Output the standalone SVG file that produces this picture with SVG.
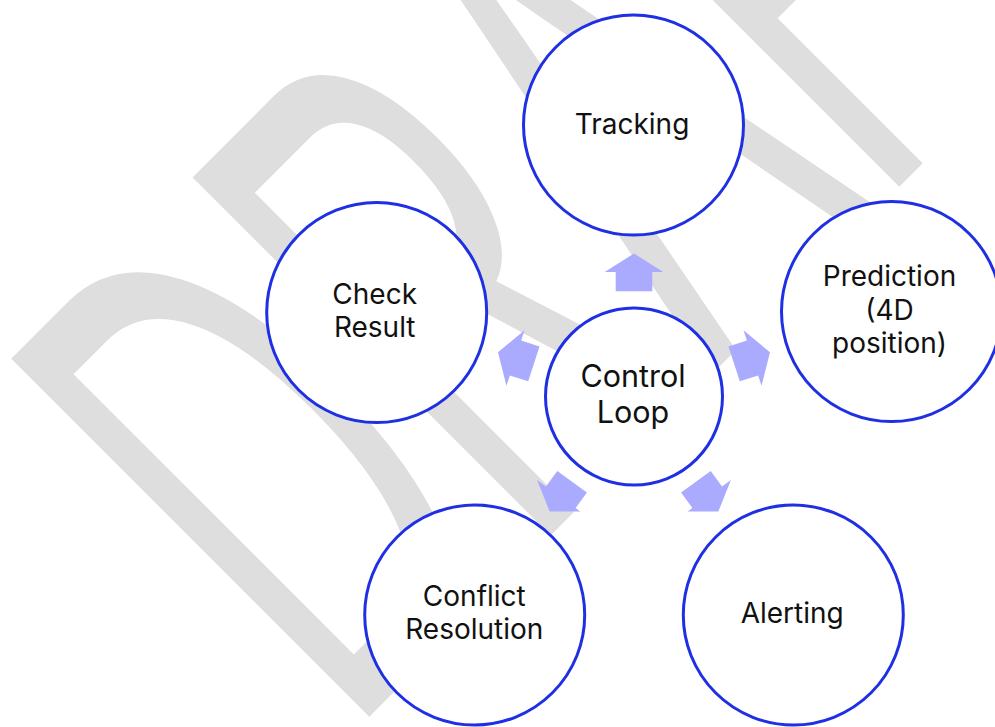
<svg xmlns="http://www.w3.org/2000/svg" width="995" height="727" viewBox="0 0 995 727">
  <style>
    .node circle { fill: #ffffff; stroke: #1f2fe3; stroke-width: 3; }
    .label { font-family: Inter, "Liberation Sans", "DejaVu Sans", sans-serif; font-size: 28px; fill: #111111; text-anchor: middle; }
    .big { font-size: 30.5px; }
    .arrow { fill: #aaaaff; }
    .wm { font-family: "Liberation Sans", Arial, sans-serif; font-size: 100px; fill: #dedede; font-kerning: none; }
  </style>
  <defs>
    <path id="blk" d="M0,-143 L29.3,-124.6 L18.3,-124.6 L18.3,-105.3 L-18.3,-105.3 L-18.3,-124.6 L-29.3,-124.6 Z"/>
    <clipPath id="clipArrows"><rect x="0" y="0" width="995" height="511.5"/></clipPath>
  </defs>
  <rect x="0" y="0" width="995" height="727" fill="#ffffff"/>
  <g id="watermark">
    <text class="wm" transform="translate(348.7,737.3) rotate(-45) scale(3.55,7.36)" x="0" y="0">DRAFT</text>
  </g>
  <g id="connectors" clip-path="url(#clipArrows)">
    <use href="#blk" class="arrow" transform="translate(634,396.5) rotate(0)"/>
    <use href="#blk" class="arrow" transform="translate(634,396.5) rotate(72)"/>
    <use href="#blk" class="arrow" transform="translate(634,396.5) rotate(144)"/>
    <use href="#blk" class="arrow" transform="translate(634,396.5) rotate(216)"/>
    <use href="#blk" class="arrow" transform="translate(634,396.5) rotate(288)"/>
  </g>
  <g id="node-control" class="node">
    <circle cx="634" cy="396.5" r="88.5"/>
    <text class="label big" x="633" y="387">Control</text>
    <text class="label big" x="633" y="423">Loop</text>
  </g>
  <g id="node-tracking" class="node">
    <circle cx="633.5" cy="125" r="110"/>
    <text class="label" x="632" y="134">Tracking</text>
  </g>
  <g id="node-prediction" class="node">
    <circle cx="891.5" cy="311.5" r="110"/>
    <text class="label" x="889.5" y="286">Prediction</text>
    <text class="label" x="889.5" y="320">(4D</text>
    <text class="label" x="889.5" y="353">position)</text>
  </g>
  <g id="node-alerting" class="node">
    <circle cx="793.3" cy="615" r="110"/>
    <text class="label" x="792.2" y="622.7">Alerting</text>
  </g>
  <g id="node-conflict" class="node">
    <circle cx="474.7" cy="615" r="110"/>
    <text class="label" x="474.3" y="605.7">Conflict</text>
    <text class="label" x="474.3" y="639">Resolution</text>
  </g>
  <g id="node-check" class="node">
    <circle cx="376.7" cy="312.5" r="110"/>
    <text class="label" x="374.7" y="303.5">Check</text>
    <text class="label" x="374.7" y="336.5">Result</text>
  </g>
</svg>
